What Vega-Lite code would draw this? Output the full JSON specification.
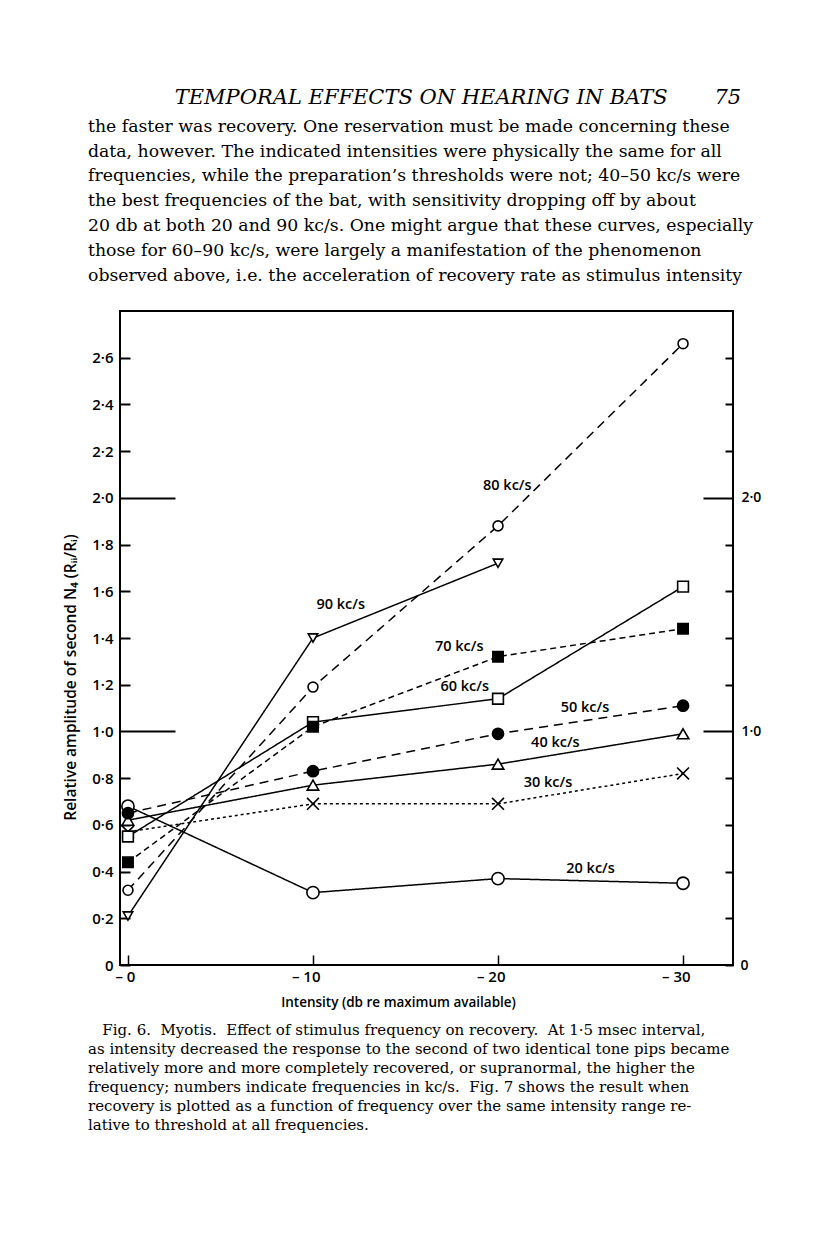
{
  "$schema": "https://vega.github.io/schema/vega-lite/v6.json",
  "background": "white",
  "padding": {"left": 62, "top": 86, "right": 0, "bottom": 0},
  "config": {
    "view": {"stroke": null},
    "axis": {"labelColor": "black", "titleColor": "black", "tickColor": "black", "domain": false, "grid": false}
  },
  "title": {
    "text": "\u200b\u00a0\u00a0\u00a0\u00a0\u00a0\u00a0\u00a0\u00a0\u00a0\u00a0\u00a0\u00a0\u00a0TEMPORAL EFFECTS ON HEARING IN BATS\u00a0\u00a0\u00a0\u00a0\u00a0\u00a0\u00a075",
    "subtitle": [
      "the faster was recovery.  One reservation must be made concerning these",
      "data, however. The indicated intensities were physically the same for all",
      "frequencies, while the preparation’s thresholds were not; 40–50 kc/s were",
      "the best frequencies of the bat, with sensitivity dropping off by about",
      "20 db at both 20 and 90 kc/s.  One might argue that these curves, especially",
      "those for 60–90 kc/s, were largely a manifestation of the phenomenon",
      "observed above, i.e. the acceleration of recovery rate as stimulus intensity"
    ],
    "anchor": "start",
    "frame": "bounds",
    "dx": 26,
    "font": "DejaVu Serif",
    "fontSize": 21,
    "fontStyle": "italic",
    "fontWeight": "normal",
    "color": "black",
    "subtitleFont": "DejaVu Serif",
    "subtitleFontSize": 17.3,
    "subtitleFontWeight": "normal",
    "subtitleColor": "black",
    "subtitleLineHeight": 24.8,
    "subtitlePadding": 10,
    "offset": 26
  },
  "datasets": {
    "series": [
      {"freq": "20", "att": 0, "amp": 0.68}, {"freq": "20", "att": 10, "amp": 0.31}, {"freq": "20", "att": 20, "amp": 0.37}, {"freq": "20", "att": 30, "amp": 0.35},
      {"freq": "30", "att": 0, "amp": 0.57}, {"freq": "30", "att": 10, "amp": 0.69}, {"freq": "30", "att": 20, "amp": 0.69}, {"freq": "30", "att": 30, "amp": 0.82},
      {"freq": "40", "att": 0, "amp": 0.62}, {"freq": "40", "att": 10, "amp": 0.77}, {"freq": "40", "att": 20, "amp": 0.86}, {"freq": "40", "att": 30, "amp": 0.99},
      {"freq": "50", "att": 0, "amp": 0.65}, {"freq": "50", "att": 10, "amp": 0.83}, {"freq": "50", "att": 20, "amp": 0.99}, {"freq": "50", "att": 30, "amp": 1.11},
      {"freq": "60", "att": 0, "amp": 0.55}, {"freq": "60", "att": 10, "amp": 1.04}, {"freq": "60", "att": 20, "amp": 1.14}, {"freq": "60", "att": 30, "amp": 1.62},
      {"freq": "70", "att": 0, "amp": 0.44}, {"freq": "70", "att": 10, "amp": 1.02}, {"freq": "70", "att": 20, "amp": 1.32}, {"freq": "70", "att": 30, "amp": 1.44},
      {"freq": "80", "att": 0, "amp": 0.32}, {"freq": "80", "att": 10, "amp": 1.19}, {"freq": "80", "att": 20, "amp": 1.88}, {"freq": "80", "att": 30, "amp": 2.66},
      {"freq": "90", "att": 0, "amp": 0.21}, {"freq": "90", "att": 10, "amp": 1.40}, {"freq": "90", "att": 20, "amp": 1.72}
    ],
    "labels": [
      {"label": "80 kc/s", "att": 20.5, "amp": 2.05},
      {"label": "90 kc/s", "att": 11.5, "amp": 1.54},
      {"label": "70 kc/s", "att": 17.9, "amp": 1.36},
      {"label": "60 kc/s", "att": 18.2, "amp": 1.19},
      {"label": "50 kc/s", "att": 24.7, "amp": 1.10},
      {"label": "40 kc/s", "att": 23.1, "amp": 0.95},
      {"label": "30 kc/s", "att": 22.7, "amp": 0.78},
      {"label": "20 kc/s", "att": 25.0, "amp": 0.41}
    ],
    "blank": [{"t": ""}]
  },
  "spacing": 12,
  "vconcat": [
    {
      "width": 613,
      "height": 654,
      "view": {"stroke": "black", "strokeWidth": 2},
      "data": {"name": "series"},
      "encoding": {
        "x": {
          "field": "att", "type": "quantitative",
          "scale": {"domain": [-0.43, 32.7], "nice": false, "zero": false},
          "axis": {
            "values": [0, 10, 20, 30],
            "tickSize": -10, "tickWidth": 1.5,
            "labelExpr": "'– ' + datum.value",
            "labelFont": "Open Sans", "labelFontWeight": 600, "labelFontSize": 15,
            "labelPadding": 14, "labelAlign": "right", "labelOffset": 7,
            "title": "Intensity (db re maximum available)",
            "titleFont": "Open Sans", "titleFontWeight": 600, "titleFontSize": 13.5,
            "titleX": 278, "titleY": 37, "titleBaseline": "middle", "titleAlign": "center"
          }
        }
      },
      "layer": [
        {
          "mark": {"type": "line", "color": "black", "strokeWidth": 1.5},
          "encoding": {
            "y": {
              "field": "amp", "type": "quantitative",
              "scale": {"domain": [0, 2.8], "nice": false, "zero": true},
              "axis": {
                "orient": "left",
                "values": [0, 0.2, 0.4, 0.6, 0.8, 1, 1.2, 1.4, 1.6, 1.8, 2, 2.2, 2.4, 2.6],
                "tickSize": {"condition": {"test": "datum.value == 1 || datum.value == 2", "value": -55}, "value": -10},
                "tickWidth": 2,
                "labelPadding": {"condition": {"test": "datum.value == 1 || datum.value == 2", "value": 62}, "value": 17},
                "labelExpr": "datum.value == 0 ? '0' : replace(format(datum.value, '.1f'), '.', '·')",
                "labelFont": "Open Sans", "labelFontWeight": 600, "labelFontSize": 15,
                "title": "Relative amplitude of second N₄ (Rᵢᵢ/Rᵢ)",
                "titleFont": "Open Sans", "titleFontWeight": 600, "titleFontSize": 15.5,
                "titleAngle": 270, "titleX": -50, "titleY": 366, "titleAlign": "center", "titleBaseline": "middle"
              }
            },
            "strokeDash": {
              "field": "freq", "type": "nominal", "legend": null,
              "scale": {
                "domain": ["20", "30", "40", "50", "60", "70", "80", "90"],
                "range": [[1, 0], [3, 3], [1, 0], [9, 6], [1, 0], [6, 4], [9, 6], [1, 0]]
              }
            },
            "detail": {"field": "freq"}
          }
        },
        {
          "mark": {"type": "point", "stroke": "black", "strokeWidth": 1.6, "opacity": 1, "filled": false},
          "encoding": {
            "y": {
              "field": "amp", "type": "quantitative",
              "scale": {"domain": [0, 2.8], "nice": false, "zero": true},
              "axis": {
                "orient": "right",
                "values": [0, 0.2, 0.4, 0.6, 0.8, 1, 1.2, 1.4, 1.6, 1.8, 2, 2.2, 2.4, 2.6],
                "tickSize": {"condition": {"test": "datum.value == 1 || datum.value == 2", "value": -30}, "value": -8},
                "tickWidth": 2,
                "labelPadding": {"condition": {"test": "datum.value == 1 || datum.value == 2", "value": 38}, "value": 15},
                "labelExpr": "datum.value == 0 ? '0' : (datum.value == 1 || datum.value == 2) ? replace(format(datum.value, '.1f'), '.', '·') : ''",
                "labelFont": "Open Sans", "labelFontWeight": 600, "labelFontSize": 14,
                "title": null
              }
            },
            "shape": {
              "field": "freq", "type": "nominal", "legend": null,
              "scale": {
                "domain": ["20", "30", "40", "50", "60", "70", "80", "90"],
                "range": ["circle", "M-1,-1L1,1M1,-1L-1,1", "triangle-up", "circle", "square", "square", "circle", "triangle-down"]
              }
            },
            "fill": {
              "field": "freq", "type": "nominal", "legend": null,
              "scale": {
                "domain": ["20", "30", "40", "50", "60", "70", "80", "90"],
                "range": ["white", "white", "white", "black", "white", "black", "white", "white"]
              }
            },
            "size": {
              "field": "freq", "type": "nominal", "legend": null,
              "scale": {
                "domain": ["20", "30", "40", "50", "60", "70", "80", "90"],
                "range": [150, 90, 180, 140, 110, 110, 150, 190]
              }
            }
          }
        },
        {
          "data": {"name": "labels"},
          "mark": {"type": "text", "font": "Open Sans", "fontWeight": 600, "fontSize": 14.5, "color": "black", "align": "center", "baseline": "middle"},
          "encoding": {
            "y": {"field": "amp", "type": "quantitative", "scale": {"domain": [0, 2.8], "nice": false, "zero": true}, "axis": null},
            "text": {"field": "label"}
          }
        }
      ],
      "resolve": {"axis": {"y": "independent"}}
    },
    {
      "width": 613,
      "height": 1,
      "view": {"stroke": null},
      "data": {"name": "blank"},
      "mark": {"type": "text"},
      "encoding": {"text": {"field": "t"}},
      "title": {
        "text": [
          "\u200b\u00a0\u00a0\u00a0Fig. 6.\u00a0\u00a0Myotis.\u00a0\u00a0Effect of stimulus frequency on recovery.\u00a0\u00a0At 1·5 msec interval,",
          "as intensity decreased the response to the second of two identical tone pips became",
          "relatively more and more completely recovered, or supranormal, the higher the",
          "frequency; numbers indicate frequencies in kc/s.\u00a0\u00a0Fig. 7 shows the result when",
          "recovery is plotted as a function of frequency over the same intensity range re-",
          "lative to threshold at all frequencies."
        ],
        "anchor": "start",
        "frame": "group",
        "dx": -32,
        "font": "DejaVu Serif",
        "fontSize": 15,
        "fontWeight": "normal",
        "color": "black",
        "lineHeight": 19,
        "offset": 0
      }
    }
  ]
}
